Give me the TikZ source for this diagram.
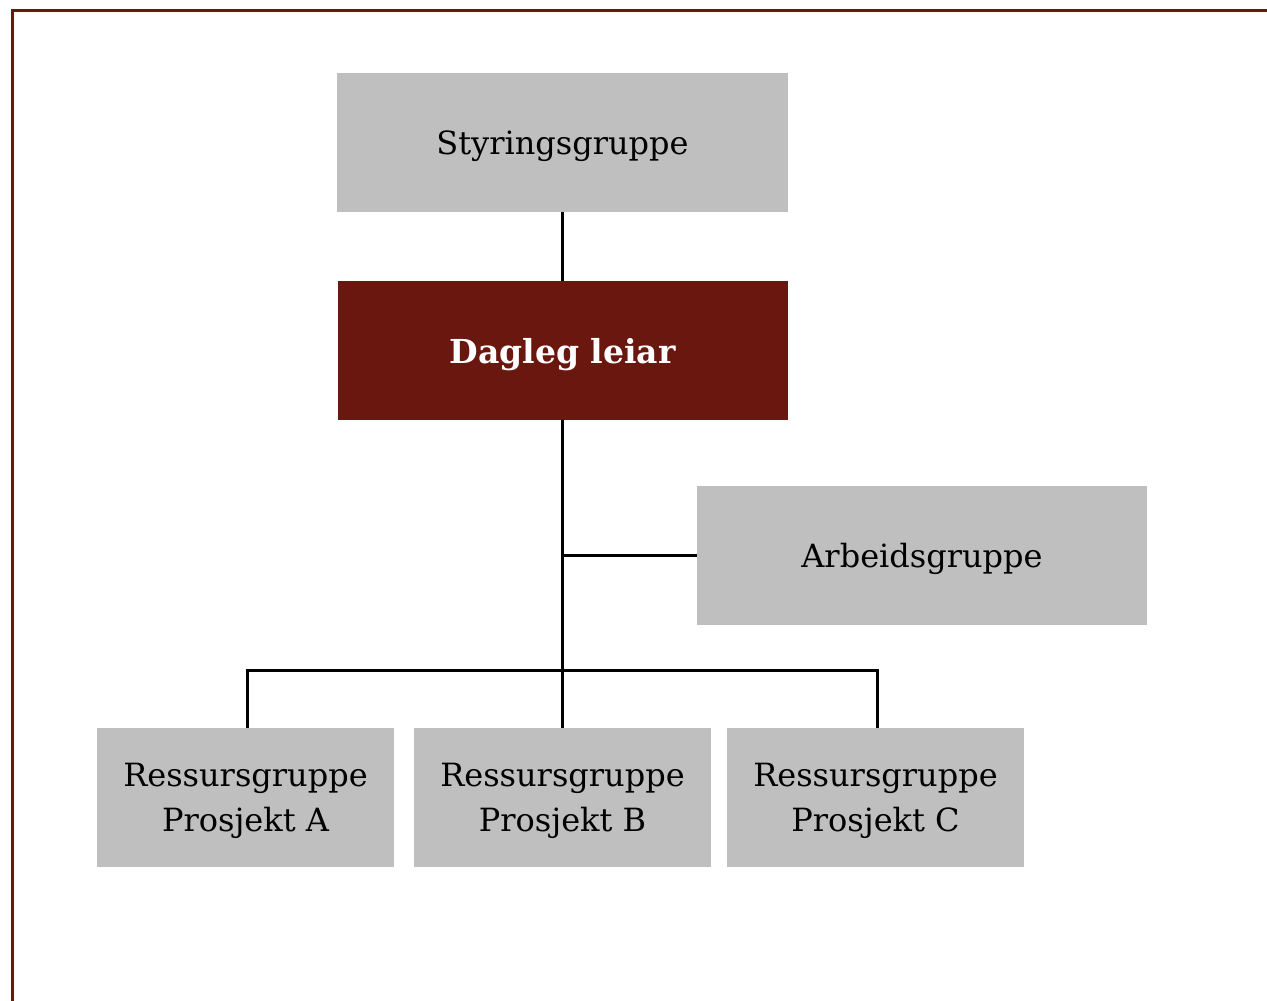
\documentclass[tikz,border=0pt]{standalone}
\usepackage{fontspec}
\setmainfont{DejaVu Serif}
\definecolor{boxgray}{HTML}{BFBFBF}
\definecolor{darkred}{HTML}{6A170F}
\begin{document}
\begin{tikzpicture}[x=1pt,y=-1pt,
  gbox/.style={fill=boxgray, draw=none, inner sep=0pt, align=center,
    text depth=0pt, font=\fontsize{32}{45}\selectfont},
  rbox/.style={fill=darkred, draw=none, inner sep=0pt, text=white,
    text depth=0pt, font=\fontsize{33}{45}\selectfont\bfseries},
  conn/.style={line width=3pt, black}]
\useasboundingbox (0,0) rectangle (1267,1001);
\draw[darkred, line width=3pt] (12,1001) -- (12,10) -- (1267,10);
\node[gbox, minimum width=451pt, minimum height=139pt] (sty) at (562.5,142.5) {Styringsgruppe};
\node[rbox, minimum width=450pt, minimum height=139pt] (dl) at (562.5,350.5) {Dagleg leiar};
\node[gbox, minimum width=450pt, minimum height=139pt] (arb) at (922,555.5) {Arbeidsgruppe};
\node[gbox, minimum width=297pt, minimum height=139pt] (ra) at (245.5,797.5) {Ressursgruppe\\Prosjekt A};
\node[gbox, minimum width=297pt, minimum height=139pt] (rb) at (562.5,797.5) {Ressursgruppe\\Prosjekt B};
\node[gbox, minimum width=297pt, minimum height=139pt] (rc) at (875.5,797.5) {Ressursgruppe\\Prosjekt C};
\coordinate (arbj) at (dl.south |- arb.west);
\draw[conn] (sty.south) -- (dl.north);
\draw[conn] (dl.south) -- (rb.north);
\draw[conn] (arbj) -- (arb.west);
\draw[conn] (ra.north -| 247,0) -- (247,670) -- (877,670) -- (rc.north -| 877,0);
\end{tikzpicture}
\end{document}
